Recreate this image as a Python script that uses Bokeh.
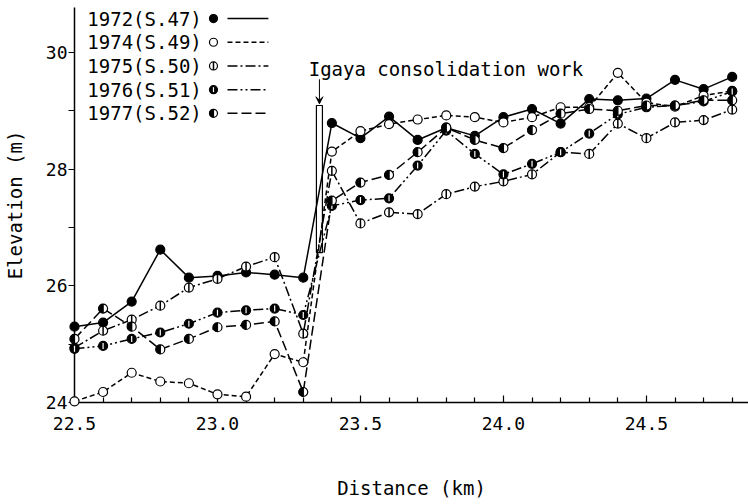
import math
from bokeh.plotting import figure
from bokeh.models import FixedTicker, Label, Arrow, VeeHead, Range1d
from bokeh.embed import file_html
from bokeh.resources import INLINE

# ---------------- data ----------------
distance_km = [22.5, 22.6, 22.7, 22.8, 22.9, 23.0, 23.1, 23.2, 23.3,
               23.4, 23.5, 23.6, 23.7, 23.8, 23.9, 24.0, 24.1, 24.2,
               24.3, 24.4, 24.5, 24.6, 24.7, 24.8]

elev_1972 = [25.30, 25.37, 25.73, 26.62, 26.14, 26.17, 26.23, 26.19, 26.14,
             28.79, 28.53, 28.90, 28.50, 28.71, 28.57, 28.89, 29.03, 28.78,
             29.20, 29.18, 29.21, 29.53, 29.37, 29.58]
elev_1974 = [24.02, 24.18, 24.51, 24.36, 24.33, 24.14, 24.10, 24.83, 24.69,
             28.30, 28.65, 28.77, 28.85, 28.92, 28.89, 28.80, 28.89, 29.06,
             29.06, 29.65, 29.14, 29.07, 29.26, 29.34]
elev_1975 = [24.94, 25.23, 25.42, 25.66, 25.97, 26.12, 26.33, 26.49, 25.18,
             27.97, 27.07, 27.26, 27.23, 27.57, 27.70, 27.79, 27.91, 28.29,
             28.26, 28.78, 28.53, 28.80, 28.84, 29.02]
elev_1976 = [24.92, 24.97, 25.09, 25.20, 25.35, 25.54, 25.58, 25.61, 25.50,
             27.37, 27.47, 27.50, 28.06, 28.66, 28.26, 27.91, 28.09, 28.29,
             28.61, 28.94, 29.06, 29.09, 29.16, 29.33]
elev_1977 = [25.09, 25.61, 25.30, 24.91, 25.09, 25.29, 25.33, 25.39, 24.18,
             27.46, 27.77, 27.90, 28.29, 28.71, 28.50, 28.36, 28.67, 28.95,
             29.03, 29.00, 29.09, 29.09, 29.18, 29.18]

series_labels = ["1972(S.47)", "1974(S.49)", "1975(S.50)", "1976(S.51)", "1977(S.52)"]

x_major_ticks = [22.5, 23.0, 23.5, 24.0, 24.5]
x_tick_labels = ["22.5", "23.0", "23.5", "24.0", "24.5"]
x_minor_ticks = [22.6, 22.7, 22.8, 22.9, 23.1, 23.2, 23.3, 23.4, 23.6, 23.7,
                 23.8, 23.9, 24.1, 24.2, 24.3, 24.4, 24.6, 24.7, 24.8]
y_major_ticks = [24, 26, 28, 30]
y_tick_labels = ["24", "26", "28", "30"]
y_minor_ticks = [25, 27, 29]

annotation_text = "Igaya consolidation work"
work_bar_left, work_bar_right = 23.346, 23.367
work_bar_bottom, work_bar_top = 26.57, 29.09

# ---------------- styles ----------------
FONT = "DejaVu Sans Mono"
styles = {
    "1972(S.47)": dict(dash="solid", marker="filled"),
    "1974(S.49)": dict(dash="5 3", marker="open"),
    "1975(S.50)": dict(dash="10 3 2 3", marker="open_bar"),
    "1976(S.51)": dict(dash="10 3 2 3 2 3", marker="dark_bar"),
    "1977(S.52)": dict(dash="10 4", marker="half"),
}
series_values = [elev_1972, elev_1974, elev_1975, elev_1976, elev_1977]

p = figure(width=748, height=504, output_backend="svg", toolbar_location=None,
           x_range=Range1d(22.5, 24.857), y_range=Range1d(24.0, 30.77),
           min_border_left=74, min_border_right=0, min_border_top=7,
           min_border_bottom=102)
p.outline_line_color = None
p.xgrid.visible = False
p.ygrid.visible = False
p.background_fill_color = "white"


def draw_markers(xs, ys, kind, size):
    r = size / 2.0
    common = dict(level="annotation")
    if kind == "filled":
        p.scatter(xs, ys, marker="circle", size=size, fill_color="black",
                  line_color="black", line_width=1.2, **common)
    elif kind == "open":
        p.scatter(xs, ys, marker="circle", size=size, fill_color="white",
                  line_color="black", line_width=1.2, **common)
    elif kind == "open_bar":
        p.scatter(xs, ys, marker="circle", size=size, fill_color="white",
                  line_color="black", line_width=1.2, **common)
        p.scatter(xs, ys, marker="dash", size=size, angle=math.pi / 2,
                  line_color="black", line_width=1.5, **common)
    elif kind == "dark_bar":
        p.scatter(xs, ys, marker="circle", size=size, fill_color="black",
                  line_color="black", line_width=1.2, **common)
        p.scatter(xs, ys, marker="dash", size=size - 3, angle=math.pi / 2,
                  line_color="white", line_width=1.2, **common)
    elif kind == "half":
        p.scatter(xs, ys, marker="circle", size=size, fill_color="white",
                  line_color="black", line_width=1.2, **common)
        p.wedge(xs, ys, radius=r, radius_units="screen", start_angle=math.pi / 2,
                end_angle=3 * math.pi / 2, fill_color="black", line_color="black",
                line_width=0.5, **common)
        p.scatter(xs, ys, marker="dash", size=size, angle=math.pi / 2,
                  line_color="black", line_width=1.2, **common)


# work bar (drawn first, lines pass over it)
p.quad(left=[work_bar_left], right=[work_bar_right], bottom=[work_bar_bottom],
       top=[work_bar_top], fill_color="white", line_color="black", line_width=1.2,
       level="annotation")

for label, vals in zip(series_labels, series_values):
    st = styles[label]
    p.line(distance_km, vals, line_color="black", line_width=1.5,
           line_dash=st["dash"], level="annotation")
for label, vals in zip(series_labels, series_values):
    draw_markers(distance_km, vals, styles[label]["marker"], 9)

# ---------------- custom legend (text, marker, line sample) ----------------
legend_text_x = 22.545
legend_marker_x = 22.986
legend_line_x0, legend_line_x1 = 23.035, 23.178
legend_top_y = 30.58
legend_step = 0.406
for i, label in enumerate(series_labels):
    yy = legend_top_y - i * legend_step
    p.add_layout(Label(x=legend_text_x, y=yy, text=label, text_font=FONT,
                       text_font_size="19px", text_baseline="middle",
                       text_color="black"))
    draw_markers([legend_marker_x], [yy], styles[label]["marker"], 8)
    p.line([legend_line_x0, legend_line_x1], [yy, yy], line_color="black",
           line_width=1.5, line_dash=styles[label]["dash"], level="annotation")

# ---------------- annotation ----------------
bar_mid = (work_bar_left + work_bar_right) / 2
p.add_layout(Label(x=23.319, y=29.72, text=annotation_text, text_font=FONT,
                   text_font_size="19px", text_baseline="alphabetic",
                   text_color="black"))
p.add_layout(Arrow(end=VeeHead(size=7, line_width=1, line_color="black"),
                   x_start=bar_mid, y_start=29.54, x_end=bar_mid, y_end=work_bar_top + 0.03,
                   line_width=1, line_color="black"))

# ---------------- axes ----------------
xa = p.xaxis[0]
xa.ticker = FixedTicker(ticks=x_major_ticks, minor_ticks=x_minor_ticks)
xa.major_label_overrides = {t: s for t, s in zip(x_major_ticks, x_tick_labels)}
xa.major_tick_in = 7
xa.major_tick_out = 0
xa.minor_tick_in = 5
xa.minor_tick_out = 0
xa.major_label_standoff = 14
xa.axis_label = "Distance (km)"
xa.axis_label_standoff = 44

ya = p.yaxis[0]
ya.ticker = FixedTicker(ticks=y_major_ticks, minor_ticks=y_minor_ticks)
ya.major_label_overrides = {t: s for t, s in zip(y_major_ticks, y_tick_labels)}
ya.major_tick_in = 0
ya.major_tick_out = 6
ya.minor_tick_in = 0
ya.minor_tick_out = 6
ya.major_label_standoff = 1
ya.axis_label = "Elevation (m)"
ya.axis_label_standoff = 17

for ax in (xa, ya):
    ax.axis_line_color = "black"
    ax.axis_line_width = 1.5
    ax.major_tick_line_color = "black"
    ax.minor_tick_line_color = "black"
    ax.major_tick_line_width = 1.2
    ax.minor_tick_line_width = 1.2
    ax.major_label_text_font = FONT
    ax.major_label_text_font_size = "18px"
    ax.major_label_text_color = "black"
    ax.axis_label_text_font = FONT
    ax.axis_label_text_font_size = "19px"
    ax.axis_label_text_font_style = "normal"
    ax.axis_label_text_color = "black"

open("out.html", "w").write(file_html(p, INLINE))
